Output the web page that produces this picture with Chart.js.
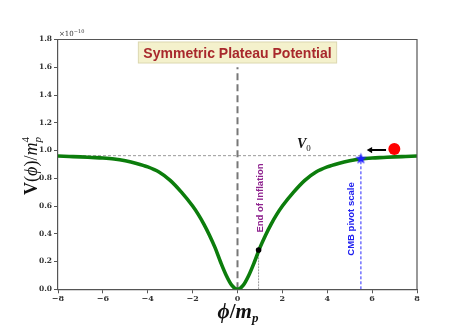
<!DOCTYPE html>
<html>
<head>
<meta charset="utf-8">
<script src="https://cdn.jsdelivr.net/npm/chart.js@4.4.1/dist/chart.umd.min.js"></script>
<style>
  html, body { margin: 0; padding: 0; background: #fff; }
  #wrap { width: 464px; height: 325px; }
</style>
</head>
<body>
<div id="wrap"><canvas id="potential-chart" width="464" height="325"></canvas></div>
<script>
// Values (V in units of 1e-10)
var phiValues = [-8, -7.5, -7, -6.5, -6, -5.5, -5, -4.5, -4, -3.5, -3, -2.5, -2, -1.75, -1.5, -1.25, -1, -0.75, -0.5, -0.25,
  0, 0.25, 0.5, 0.75, 1, 1.25, 1.5, 1.75, 2, 2.5, 3, 3.5, 4, 4.5, 5, 5.5, 6, 6.5, 7, 7.5, 8];
var potentialValues = [0.960, 0.957, 0.954, 0.950, 0.946, 0.939, 0.926, 0.907, 0.882, 0.845, 0.785, 0.700, 0.600, 0.540, 0.470, 0.390, 0.300, 0.195, 0.100, 0.028,
  0, 0.028, 0.100, 0.195, 0.300, 0.390, 0.470, 0.540, 0.600, 0.700, 0.785, 0.845, 0.882, 0.907, 0.926, 0.939, 0.946, 0.950, 0.954, 0.957, 0.960];

var xTicks = [-8, -6, -4, -2, 0, 2, 4, 6, 8];
var yTicks = [0, 0.2, 0.4, 0.6, 0.8, 1.0, 1.2, 1.4, 1.6, 1.8];

var plateauLevel = 0.963;
var endOfInflation = [0.94, 0.283];
var pivotPoint = [5.5, 0.94];
var fieldBall = [6.99, 1.011];
var arrowX = [6.62, 5.92];
var arrowY = 1.003;
var centerLineTop = 1.6;

function pts(xs, ys) {
  return xs.map(function (x, i) { return { x: x, y: ys[i] }; });
}

// filled five point star for the pivot marker
function makeStar(size, color) {
  var c = document.createElement('canvas');
  c.width = size; c.height = size;
  var g = c.getContext('2d');
  var cx = size / 2, cy = size / 2, ro = size / 2 - 0.5, ri = ro * 0.42;
  g.beginPath();
  for (var i = 0; i < 10; i++) {
    var r = i % 2 === 0 ? ro : ri;
    var a = -Math.PI / 2 + i * Math.PI / 5;
    g.lineTo(cx + r * Math.cos(a), cy + r * Math.sin(a));
  }
  g.closePath();
  g.fillStyle = color;
  g.fill();
  return c;
}
var starImg = makeStar(13, '#1f1fff');

function drawParts(ctx, parts, x, y, align) {
  var total = 0;
  parts.forEach(function (p) {
    ctx.font = p.font;
    p.w = ctx.measureText(p.t).width;
    if (!p.stack) total += p.w;
  });
  var cx = align === 'center' ? x - total / 2 : x;
  var lastX = cx, lastW = 0;
  parts.forEach(function (p) {
    ctx.font = p.font;
    if (p.stack) {
      ctx.fillText(p.t, lastX, y + (p.dy || 0));
    } else {
      ctx.fillText(p.t, cx, y + (p.dy || 0));
      lastX = cx; lastW = p.w;
      cx += p.w;
    }
  });
}

var textPlugin = {
  id: 'annotations',
  afterDraw: function (chart) {
    var ctx = chart.ctx;
    var a = chart.chartArea;
    var xs = chart.scales.x, ys = chart.scales.y;
    ctx.save();

    // top and right spines
    ctx.strokeStyle = '#555';
    ctx.lineWidth = 1.2;
    ctx.beginPath();
    ctx.moveTo(a.left, a.top);
    ctx.lineTo(a.right, a.top);
    ctx.lineTo(a.right, a.bottom);
    ctx.stroke();

    // offset text
    ctx.fillStyle = '#333';
    ctx.textBaseline = 'alphabetic';
    ctx.textAlign = 'left';
    drawParts(ctx, [
      { t: '×10', font: '7px "DejaVu Serif"' },
      { t: '−10', font: '5px "DejaVu Serif"', dy: -3 }
    ], 59, 36, 'left');

    // title box
    var title = 'Symmetric Plateau Potential';
    ctx.font = 'bold 14px "Liberation Sans"';
    var tw = ctx.measureText(title).width;
    var bx = 237.5 - tw / 2 - 5, by = 42, bw = tw + 10, bh = 21;
    ctx.fillStyle = '#f4f1cc';
    ctx.fillRect(bx, by, bw, bh);
    ctx.strokeStyle = '#dcd8b0';
    ctx.lineWidth = 1;
    ctx.strokeRect(bx, by, bw, bh);
    ctx.fillStyle = '#a8282c';
    ctx.textAlign = 'center';
    ctx.fillText(title, 237.5, 58);

    // V0 label
    ctx.textAlign = 'left';
    ctx.fillStyle = '#111';
    drawParts(ctx, [
      { t: 'V', font: 'bold italic 14px "Liberation Serif"' },
      { t: '0', font: '9px "Liberation Serif"', dy: 3 }
    ], 297, 148, 'left');

    // rotated labels
    ctx.save();
    ctx.translate(xs.getPixelForValue(1.0) + 0.5, 198);
    ctx.rotate(-Math.PI / 2);
    ctx.textAlign = 'center';
    ctx.textBaseline = 'middle';
    ctx.font = 'bold 9.5px "Liberation Sans"';
    ctx.fillStyle = '#8e228e';
    ctx.fillText('End of Inflation', 0, 0);
    ctx.restore();

    ctx.save();
    ctx.translate(xs.getPixelForValue(5.5) - 9.5, 219);
    ctx.rotate(-Math.PI / 2);
    ctx.textAlign = 'center';
    ctx.textBaseline = 'middle';
    ctx.font = 'bold 9.5px "Liberation Sans"';
    ctx.fillStyle = '#2020f0';
    ctx.fillText('CMB pivot scale', 0, 0);
    ctx.restore();

    // axis titles
    ctx.fillStyle = '#111';
    ctx.textBaseline = 'alphabetic';
    ctx.save();
    ctx.translate(37, 166);
    ctx.rotate(-Math.PI / 2);
    drawParts(ctx, [
      { t: 'V', font: 'bold 18px "Liberation Serif"' },
      { t: '(', font: '18px "Liberation Serif"' },
      { t: 'ϕ', font: 'italic 18px "Liberation Serif"' },
      { t: ')/', font: '18px "Liberation Serif"' },
      { t: 'm', font: 'italic 18px "Liberation Serif"' },
      { t: 'p', font: 'italic 11px "Liberation Serif"', dy: 4 },
      { t: '4', font: '11px "Liberation Serif"', dy: -8, stack: true }
    ], 0, 0, 'center');
    ctx.restore();

    drawParts(ctx, [
      { t: 'ϕ', font: 'bold italic 21px "Liberation Serif"' },
      { t: '/', font: 'bold 21px "Liberation Serif"' },
      { t: 'm', font: 'bold italic 21px "Liberation Serif"' },
      { t: 'p', font: 'bold italic 13px "Liberation Serif"', dy: 4 }
    ], 238, 318, 'center');

    ctx.restore();
  }
};

var ctx = document.getElementById('potential-chart').getContext('2d');
var potentialChart = new Chart(ctx, {
  type: 'scatter',
  data: {
    datasets: [{
      label: 'V(phi)',
      data: pts(phiValues, potentialValues),
      showLine: true,
      borderColor: '#0c7d0c',
      borderWidth: 3.6,
      cubicInterpolationMode: 'monotone',
      pointRadius: 0,
      order: 2
    }, {
      label: 'plateau',
      data: pts([-8, pivotPoint[0]], [plateauLevel, plateauLevel]),
      showLine: true,
      borderColor: '#999',
      borderWidth: 1,
      borderDash: [3, 2],
      pointRadius: 0,
      order: 4
    }, {
      label: 'center',
      data: pts([0, 0], [0, centerLineTop]),
      showLine: true,
      borderColor: '#777',
      borderWidth: 2,
      borderDash: [7, 4],
      pointRadius: 0,
      order: 3
    }, {
      label: 'end of inflation',
      data: pts([endOfInflation[0], endOfInflation[0]], [0, endOfInflation[1]]),
      showLine: true,
      borderColor: '#999',
      borderWidth: 1,
      borderDash: [2, 1],
      pointRadius: 0,
      order: 4
    }, {
      label: 'pivot',
      data: pts([pivotPoint[0], pivotPoint[0]], [0, pivotPoint[1]]),
      showLine: true,
      borderColor: '#2a2aff',
      borderWidth: 1,
      borderDash: [3, 2],
      pointRadius: 0,
      order: 4
    }, {
      label: 'pivot star',
      data: pts([pivotPoint[0]], [pivotPoint[1]]),
      pointStyle: starImg,
      pointRadius: 6,
      order: 0
    }, {
      label: 'end point',
      data: pts([endOfInflation[0]], [endOfInflation[1]]),
      pointStyle: 'circle',
      pointRadius: 2.8,
      backgroundColor: '#000',
      borderColor: '#000',
      borderWidth: 0,
      order: 0
    }, {
      label: 'field',
      data: pts([fieldBall[0]], [fieldBall[1]]),
      pointStyle: 'circle',
      pointRadius: 6,
      backgroundColor: '#ff0000',
      borderColor: '#ff0000',
      borderWidth: 0,
      order: 0
    }, {
      label: 'arrow',
      data: pts(arrowX, [arrowY, arrowY]),
      showLine: true,
      borderColor: '#000',
      borderWidth: 2,
      pointStyle: 'triangle',
      pointRotation: 270,
      pointRadius: [0, 3.6],
      backgroundColor: '#000',
      pointBorderWidth: 0,
      order: 0
    }]
  },
  options: {
    responsive: false,
    animation: false,
    devicePixelRatio: 1,
    layout: {
      padding: { left: 0, right: 47, top: 39.5, bottom: 0 }
    },
    scales: {
      x: {
        type: 'linear',
        min: -8,
        max: 8,
        afterFit: function (scale) { scale.height = 35.7; },
        afterBuildTicks: function (scale) {
          scale.ticks = xTicks.map(function (v) { return { value: v }; });
        },
        ticks: {
          padding: 1,
          color: '#333',
          font: { family: '"DejaVu Serif"', size: 8, weight: 'bold' },
          maxRotation: 0,
          callback: function (v) { return String(v).replace('-', '−'); }
        },
        grid: { drawOnChartArea: false, drawTicks: true, tickLength: 4, color: '#555', lineWidth: 1 },
        border: { color: '#555', width: 1.2 }
      },
      y: {
        type: 'linear',
        min: 0,
        max: 1.8,
        afterFit: function (scale) { scale.width = 58; },
        afterBuildTicks: function (scale) {
          scale.ticks = yTicks.map(function (v) { return { value: v }; });
        },
        ticks: {
          padding: 2,
          color: '#333',
          font: { family: '"DejaVu Serif"', size: 7.5, weight: 'bold' },
          callback: function (v) { return Number(v).toFixed(1); }
        },
        grid: { drawOnChartArea: false, drawTicks: true, tickLength: 4, color: '#555', lineWidth: 1 },
        border: { color: '#555', width: 1.2 }
      }
    },
    plugins: {
      legend: { display: false },
      tooltip: { enabled: false },
      title: { display: false }
    }
  },
  plugins: [textPlugin]
});
</script>
</body>
</html>
